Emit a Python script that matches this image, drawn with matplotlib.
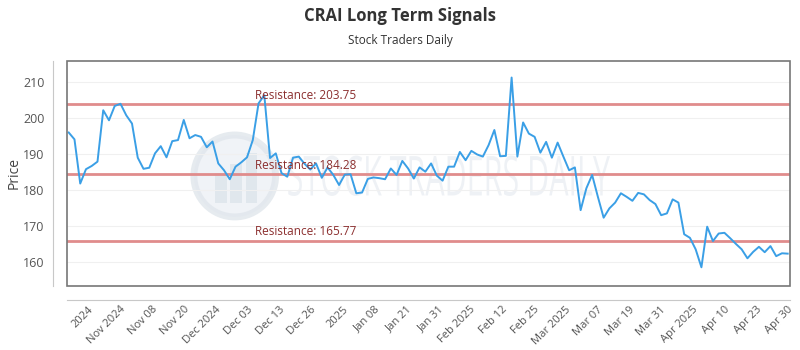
import matplotlib
matplotlib.use("Agg")
import matplotlib.pyplot as plt
import numpy as np
from matplotlib.patches import Rectangle, Ellipse, PathPatch
from matplotlib.textpath import TextPath
from matplotlib.font_manager import FontProperties
from matplotlib.transforms import Affine2D

title = "CRAI Long Term Signals"
subtitle = "Stock Traders Daily"
ylabel = "Price"

prices = [
    195.9, 194.0, 181.7, 185.7, 186.6, 187.8, 202.1, 199.3, 203.3, 203.9,
    200.7, 198.4, 188.9, 185.8, 186.1, 190.1, 192.1, 189.0, 193.5, 193.8,
    199.4, 194.3, 195.2, 194.7, 191.8, 193.4, 187.3, 185.4, 182.9, 186.4,
    187.6, 189.0, 193.8, 204.0, 206.3, 188.8, 190.1, 184.6, 183.6, 188.9,
    189.2, 187.2, 185.6, 187.3, 183.3, 186.2, 184.1, 181.3, 184.2, 184.3,
    179.0, 179.2, 183.0, 183.4, 183.2, 182.9, 185.9, 184.1, 188.0, 185.9,
    183.1, 186.2, 185.0, 187.3, 183.9, 182.5, 186.4, 186.4, 190.5, 188.2,
    190.8, 189.8, 189.2, 192.4, 196.6, 189.3, 189.4, 211.2, 189.2, 198.7,
    195.6, 194.7, 190.3, 193.3, 188.9, 193.1, 189.2, 185.4, 186.2, 174.3,
    180.4, 184.1, 178.0, 172.2, 174.8, 176.4, 179.0, 178.0, 176.9, 179.1,
    178.7, 177.1, 176.0, 172.9, 173.4, 177.3, 176.4, 167.6, 166.6, 163.4,
    158.4, 169.7, 165.7, 167.8, 168.0, 166.5, 164.9, 163.4, 160.9, 162.7,
    164.1, 162.6, 164.3, 161.5, 162.3, 162.2,
]

resistance_levels = [203.75, 184.28, 165.77]
resistance_labels = ["Resistance: 203.75", "Resistance: 184.28", "Resistance: 165.77"]

tick_labels = ["2024", "Nov 2024", "Nov 08", "Nov 20", "Dec 2024", "Dec 03", "Dec 13",
               "Dec 26", "2025", "Jan 08", "Jan 21", "Jan 31", "Feb 2025", "Feb 12",
               "Feb 25", "Mar 2025", "Mar 07", "Mar 19", "Mar 31", "Apr 2025",
               "Apr 10", "Apr 23", "Apr 30"]
yticks = [160, 170, 180, 190, 200, 210]

plt.rcParams['font.family'] = ['Open Sans', 'DejaVu Sans']

fig = plt.figure(figsize=(8, 3.5), dpi=100)
ax = fig.add_axes([0.08375, 0.1829, 0.90375, 0.6428])

# spines first (set_position resets ticks)
for s in ['top', 'right']:
    ax.spines[s].set_visible(False)
ax.spines['left'].set_position(('outward', 10))
ax.spines['bottom'].set_position(('outward', 10))
ax.spines['left'].set_color('#c8c8c8')
ax.spines['bottom'].set_color('#c8c8c8')

x = np.arange(len(prices))
n = len(prices)

# watermark logo
ax.add_patch(Ellipse((0.232, 0.489), 0.113, 0.364, transform=ax.transAxes,
                     facecolor='#edf1f5', edgecolor='#e0e6ec', lw=5, alpha=0.8, zorder=0))
for bx, bh in [(0.205, 0.13), (0.226, 0.17), (0.247, 0.22)]:
    ax.add_patch(Rectangle((bx, 0.37), 0.016, bh, transform=ax.transAxes,
                           facecolor='#dfe6ec', alpha=0.9, zorder=0, lw=0))
# watermark text, stretched
tp = TextPath((0, 0), "STOCK TRADERS DAILY", size=1,
              prop=FontProperties(family='Open Sans'))
ext = tp.get_extents()
sx = 0.445 / ext.width
sy = 0.18 / ext.height
tr = Affine2D().translate(-ext.x0, -ext.y0).scale(sx, sy).translate(0.306, 0.40) + ax.transAxes
ax.add_patch(PathPatch(tp, transform=tr, facecolor='#e9edf2', edgecolor='none',
                       alpha=0.75, zorder=0))

for v in yticks:
    ax.axhline(v, color='#f0f0f0', lw=0.8, zorder=1)

for lvl, lab in zip(resistance_levels, resistance_labels):
    ax.axhline(lvl, color='#e08c8c', lw=2, zorder=2)
    ax.text(32.3, lvl + 0.7, lab, color='#8b2e2e', fontsize=8.5, ha='left',
            va='bottom', zorder=4)

ax.plot(x, prices, color='#3a9fe6', lw=1.4, zorder=3)

ax.set_xlim(-0.3, n - 1 + 0.4)
ax.set_ylim(153.2, 215.8)
ax.set_yticks(yticks)
ax.set_yticklabels([str(v) for v in yticks])
ax.tick_params(axis='y', length=0, labelsize=9, labelcolor='#555555', pad=6)

tpos = np.linspace(3.4, n - 1, len(tick_labels))
ax.set_xticks(tpos)
ax.set_xticklabels(tick_labels, rotation=45, ha='right', rotation_mode='anchor',
                   fontsize=8, color='#555555')
ax.tick_params(axis='x', length=0, pad=3)

ax.set_ylabel(ylabel, fontsize=10, color='#444444', labelpad=1)

ax.add_patch(Rectangle((0, 0), 1, 1, transform=ax.transAxes, fill=False,
                       edgecolor='#777777', lw=1.2, zorder=5, clip_on=False))

fig.text(0.5, 0.955, title, ha='center', va='center', fontsize=12,
         fontweight='bold', color='#333333')
fig.text(0.5, 0.885, subtitle, ha='center', va='center', fontsize=8.5,
         color='#333333')

fig.savefig("out.png", dpi=100)
